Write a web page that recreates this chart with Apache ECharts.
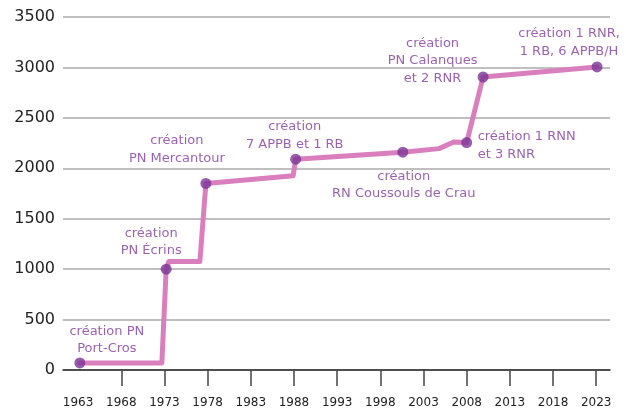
<!DOCTYPE html>
<html>
<head>
<meta charset="utf-8">
<script src="https://cdn.jsdelivr.net/npm/echarts@6/dist/echarts.min.js"></script>
<style>
  html, body { margin: 0; padding: 0; background: #fff; }
  #chart { width: 626px; height: 409px; }
</style>
</head>
<body>
<div id="chart"></div>
<script>
// Cumulative protected area over time (path of the curve)
const pathYears  = [1963.2, 1972.7, 1973.2, 1973.5, 1977.1, 1977.8, 1987.9, 1988.2, 2000.6, 2004.8, 2006.5, 2008.0, 2009.9, 2023.1];
const pathValues = [70,     70,     1000,   1075,   1075,   1850,   1925,   2090,   2160,   2195,   2260,   2255,   2905,   3005];

// Milestones marked by a dot, with their caption
const eventYears  = [1963.2, 1973.2, 1977.8, 1988.2, 2000.6, 2008.0, 2009.9, 2023.1];
const eventValues = [70,     1000,   1850,   2090,   2160,   2255,   2905,   3005];
const eventLabels = [
  'création PN\nPort-Cros',
  'création\nPN Écrins',
  'création\nPN Mercantour',
  'création\n7 APPB et 1 RB',
  'création\nRN Coussouls de Crau',
  'création 1 RNN\net 3 RNR',
  'création\nPN Calanques\net 2 RNR',
  'création 1 RNR,\n1 RB, 6 APPB/H'
];
// caption placement around each dot
const labelOffsets = [[27, -23], [-15, -27], [-29, -34], [-1, -23.5], [1, 33], [11, 3], [-50.5, -16], [-28, -24.5]];
const labelAligns  = ['center', 'center', 'center', 'center', 'center', 'left', 'center', 'center'];

// Axis ticks
const xLabelYears = [1963, 1968, 1973, 1978, 1983, 1988, 1993, 1998, 2003, 2008, 2013, 2018, 2023];
const xTickYears  = [1968, 1973, 1978, 1983, 1988, 1993, 1998, 2003, 2008, 2013, 2018, 2023];

const FONT = 'DejaVu Sans';
const PURPLE_TEXT = '#7f3a9b';
const DOT = '#7a3597';
const LINE = '#d97fbe';

const chart = echarts.init(document.getElementById('chart'), null, { renderer: 'canvas' });

chart.setOption({
  animation: false,
  backgroundColor: '#ffffff',
  grid: { left: 63, right: 16, top: 17, bottom: 39, containLabel: false },
  xAxis: {
    type: 'value',
    min: 1961.25,
    max: 2024.6,
    splitLine: { show: false },
    axisLine: { show: true, lineStyle: { color: '#2a2a2a', width: 1.5 } },
    axisTick: {
      show: true,
      customValues: xTickYears,
      length: 16,
      lineStyle: { color: '#444', width: 1.5 }
    },
    axisLabel: {
      customValues: xLabelYears,
      margin: 27,
      color: '#222',
      fontFamily: FONT,
      fontSize: 12,
      formatter: v => String(Math.round(v))
    }
  },
  yAxis: {
    type: 'value',
    min: 0,
    max: 3500,
    interval: 500,
    axisLine: { show: false },
    axisTick: { show: false },
    axisLabel: {
      margin: 8,
      color: '#222',
      fontFamily: FONT,
      fontSize: 16,
      formatter: v => String(v)
    },
    splitLine: { show: true, lineStyle: { color: '#aaaaaa', width: 1.5 } }
  },
  series: [
    {
      type: 'line',
      data: pathYears.map((y, i) => [y, pathValues[i]]),
      showSymbol: false,
      symbol: 'none',
      lineStyle: { color: LINE, width: 5, join: 'round', cap: 'round' },
      z: 2
    },
    {
      type: 'scatter',
      data: eventYears.map((y, i) => ({
        value: [y, eventValues[i]],
        label: {
          show: true,
          formatter: eventLabels[i],
          position: 'inside',
          offset: labelOffsets[i],
          align: labelAligns[i],
          verticalAlign: 'middle'
        }
      })),
      symbol: 'circle',
      symbolSize: 11,
      itemStyle: { color: DOT },
      label: {
        color: PURPLE_TEXT,
        fontFamily: FONT,
        fontSize: 13,
        lineHeight: 17.5
      },
      z: 3
    }
  ]
});
</script>
</body>
</html>
